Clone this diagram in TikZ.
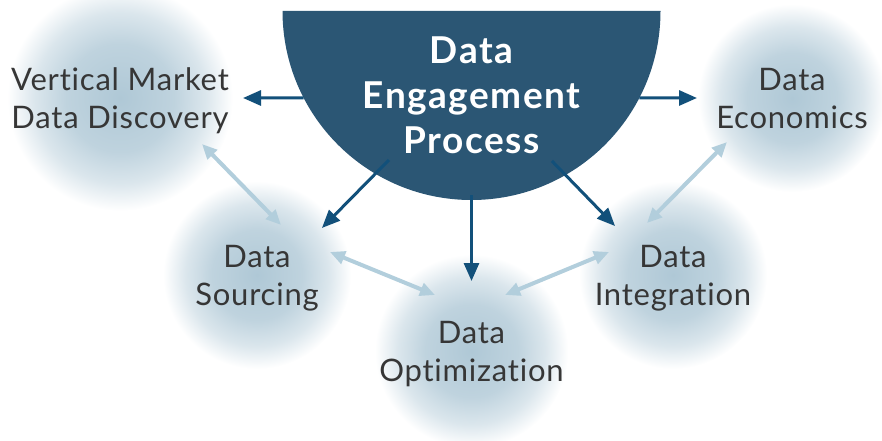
\documentclass[tikz,border=0pt]{standalone}
\usepackage{fontspec}
\setmainfont{Lato}[Ligatures={NoCommon,NoContextual}]
\usepackage{tikz}
\usetikzlibrary{arrows.meta,calc}

\definecolor{hubfill}{HTML}{2B5674}
\definecolor{darkarrow}{HTML}{12507A}
\definecolor{litearrow}{HTML}{B2CEDC}
\definecolor{blobc}{HTML}{AFC8D6}
\definecolor{labeltext}{HTML}{363636}
\pgfdeclareradialshading{blob}{\pgfpoint{0bp}{0bp}}{color(0bp)=(blobc); color(12bp)=(blobc!80!white); color(19bp)=(blobc!45!white); color(25bp)=(white); color(50bp)=(white)}

\tikzset{
  stage/.style={circle, minimum size=188pt, inner sep=0pt, shade, shading=blob, align=center, text=labeltext, font=\fontsize{31}{38}\selectfont\addfontfeatures{LetterSpace=2.5}, text depth=0pt},
  darr/.style={draw=darkarrow, line width=3pt, -{Triangle[length=18pt,width=15pt]}},
  larr/.style={draw=litearrow, line width=4pt, {Triangle[length=15pt,width=13pt]}-{Triangle[length=15pt,width=13pt]}}
}

\begin{document}
\begin{tikzpicture}[x=1pt, y=1pt]
  \useasboundingbox (0,0) rectangle (882,440);
  \coordinate (hub) at (471.5,429);
  \fill[hubfill] ($(hub)+(-189,0)$) arc[start angle=180, end angle=360, radius=189] -- cycle;
  \node[text=white, align=center, font=\bfseries\fontsize{37}{45}\selectfont\addfontfeatures{LetterSpace=4}, text depth=0pt] (title) at (471.5,345) {Data\\Engagement\\Process};

  \node[stage] (discovery) at (120,342) {Vertical Market\\Data Discovery};
  \node[stage] (economics) at (792,342) {Data\\Economics};
  \node[stage] (sourcing) at (257,165) {Data\\Sourcing};
  \node[stage] (integration) at (673,165) {Data\\Integration};
  \node[stage] (optimization) at (471.5,89) {Data\\Optimization};

  \draw[darr] ($(hub)+(207.4:189)$) -- ($(discovery)+(0:123)$);
  \draw[darr] ($(hub)+(-27.4:189)$) -- ($(economics)+(180:95)$);
  \draw[darr] ($(hub)+(241:170.3)$) -- ($(sourcing)+(35.9:80.2)$);
  \draw[darr] ($(hub)+(-90:184)$) -- ($(optimization)+(90:70)$);
  \draw[darr] ($(hub)+(-61.8:170.2)$) -- ($(integration)+(139.8:75.9)$);

  \draw[larr] ($(discovery)+(-29.3:94)$) -- ($(sourcing)+(64.4:55.5)$);
  \draw[larr] ($(sourcing)+(17.5:76.5)$) -- ($(optimization)+(123.1:66.8)$);
  \draw[larr] ($(optimization)+(59.1:65.3)$) -- ($(integration)+(160.2:68)$);
  \draw[larr] ($(integration)+(116.6:58.1)$) -- ($(economics)+(214.1:78.5)$);
\end{tikzpicture}
\end{document}
